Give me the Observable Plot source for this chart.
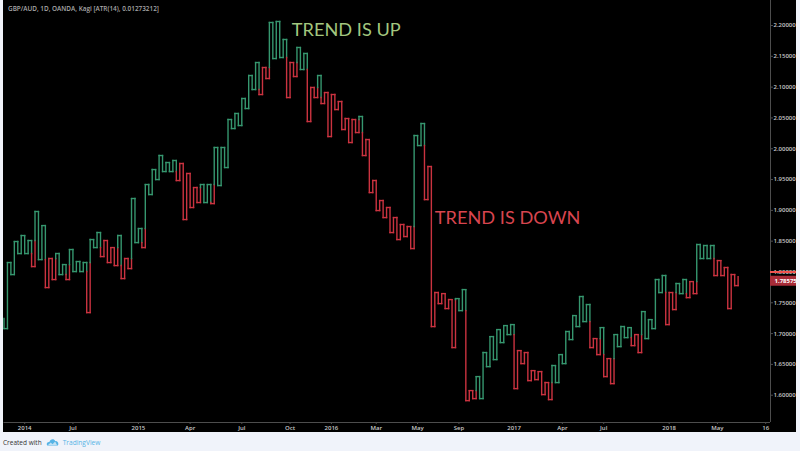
<!DOCTYPE html>
<html><head><meta charset="utf-8">
<script src="https://cdn.jsdelivr.net/npm/d3@7"></script>
<script src="https://cdn.jsdelivr.net/npm/@observablehq/plot@0.6"></script>
<style>
html,body{margin:0;padding:0;background:#f0f3fa;overflow:hidden;}
#chart{position:absolute;left:3px;top:0;width:793px;height:432px;}
#chart svg{display:block;}
#foot{position:absolute;left:3px;top:435px;height:14px;font:6.5px "Open Sans",sans-serif;color:#333;display:flex;align-items:center;gap:4px;}
#foot .tv{color:#56b4e6;font-size:6.6px;}
</style></head><body>
<div id="chart"></div>
<div id="foot"><span>Created with</span>
<svg width="13" height="8" viewBox="0 0 14 9"><path d="M1 8.5 C-0.5 5.5 2 4 3.5 4.5 C4 1 9 0 10 3.5 C13 3 14.5 6.5 13 8.5 Z" fill="#56b4e6"/><path d="M2 8 L5 5 L7 7 L10 4 L12 8Z" fill="#f0f3fa" opacity=".7"/></svg>
<span class="tv">TradingView</span></div>
<script>
const title = "GBP/AUD, 1D, OANDA, Kagi [ATR(14), 0.01273212]";
const kagiPrices = [
1.7244,1.7081,1.8153,1.7958,1.8494,1.8299,1.8591,1.8299,1.8510,1.8088,
1.8981,1.8201,1.8753,1.7747,1.8218,1.7877,1.8299,1.7958,1.8120,1.7877,
1.8364,1.8007,1.8169,1.8007,1.8153,1.7341,1.8526,1.8396,1.8640,1.8250,
1.8510,1.8153,1.8396,1.8104,1.8591,1.7893,1.8218,1.8055,1.9192,1.8477,
1.8705,1.8396,1.9419,1.9257,1.9662,1.9500,1.9890,1.9630,1.9776,1.9630,
1.9809,1.9484,1.9760,1.8851,1.9598,1.9046,1.9370,1.9127,1.9419,1.9127,
1.9419,1.9110,2.0020,1.9403,2.0020,1.9695,2.0474,2.0328,2.0572,2.0377,
2.0815,2.0653,2.1188,2.0961,2.1399,2.0880,2.1318,2.1140,2.2049,2.1464,
2.2065,2.1481,2.1773,2.0831,2.1399,2.1172,2.1643,2.1286,2.1546,2.0442,
2.0994,2.0831,2.1188,2.0734,2.0912,2.0198,2.0880,2.0636,2.0766,2.0312,
2.0490,2.0101,2.0474,2.0263,2.0523,1.9890,2.0149,1.9289,1.9484,1.8997,
1.9159,1.8883,1.9046,1.8640,1.8883,1.8526,1.8770,1.8575,1.8737,1.8380,
2.0214,2.0052,2.0409,1.9175,1.9711,1.7114,1.7666,1.7487,1.7649,1.7406,
1.7552,1.6773,1.7568,1.7373,1.7714,1.5912,1.6075,1.5945,1.6302,1.5945,
1.6692,1.6464,1.6951,1.6578,1.7065,1.6854,1.7130,1.6984,1.7146,1.6107,
1.6724,1.6513,1.6692,1.6237,1.6399,1.6253,1.6383,1.6010,1.6205,1.5929,
1.6481,1.6205,1.6659,1.6513,1.7033,1.6903,1.7292,1.7114,1.7601,1.7195,
1.7471,1.6773,1.6919,1.6659,1.7097,1.6302,1.6594,1.6188,1.6984,1.6789,
1.7114,1.6935,1.7097,1.6805,1.6984,1.6692,1.7357,1.6919,1.7227,1.7081,
1.7877,1.7666,1.7942,1.7146,1.7666,1.7390,1.7812,1.7649,1.7877,1.7584,
1.7844,1.7649,1.8445,1.8218,1.8429,1.8218,1.8429,1.7942,1.8185,1.7942,
1.8072,1.7406,1.7958,1.7779,1.7925
];
const yTicks = [1.6,1.65,1.7,1.75,1.8,1.85,1.9,1.95,2.0,2.05,2.1,2.15,2.2];
const xTickIdx = [6,20,39,54,69,83,95,108,120,132,148,162,174,193,207,221];
const xTickLabels = ["2014","Jul","2015","Apr","Jul","Oct","2016","Mar","May","Sep","2017","Apr","Jul","2018","May","16"];
const lastPrice = 1.78575;
const notes = [
  {i:83.5,p:2.192,t:"TREND IS UP",c:"#a3c77f"},
  {i:125,p:1.8866,t:"TREND IS DOWN",c:"#d8454f"}
];
const GREEN="#36976f", RED="#cb3340";
const xMax = 222.4, yMin = 1.5557, yMax = 2.2406;

// Kagi segments: colour flips where the price crosses the previous shoulder or waist
const segs = [];
let up = true;
function push(x1,y1,x2,y2,c){segs.push({x1,y1,x2,y2,c});}
for (let k=1;k<kagiPrices.length;k++){
  const a=kagiPrices[k-1], b=kagiPrices[k], x=k-1;
  const prev = k>=2 ? kagiPrices[k-2] : null;
  let flip = null;
  if (prev!==null){
    if (b>a && !up && b>prev) flip=prev;
    if (b<a && up && b<prev) flip=prev;
  }
  if (flip!==null){
    push(x,a,x,flip,up?GREEN:RED);
    up=!up;
    push(x,flip,x,b,up?GREEN:RED);
  } else {
    push(x,a,x,b,up?GREEN:RED);
  }
  if (k<kagiPrices.length-1) push(x,b,x+1,b,up?GREEN:RED);
}
const axisColor="#4d4d4d", labelColor="#c9c9c9";
const font='"Open Sans",sans-serif';
const chart = Plot.plot({
  width:793,height:432,
  marginLeft:0.5,marginRight:26,marginTop:0,marginBottom:10,
  style:{background:"#000",fontFamily:font},
  x:{type:"linear",domain:[0,xMax],axis:null},
  y:{type:"linear",domain:[yMin,yMax],axis:null},
  color:{type:"identity"},
  marks:[
    Plot.ruleX([xMax],{stroke:axisColor,strokeWidth:1}),
    Plot.ruleY([yMin],{stroke:axisColor,strokeWidth:1}),
    Plot.link(segs,{x1:"x1",y1:"y1",x2:"x2",y2:"y2",stroke:"c",strokeWidth:1.4,strokeLinecap:"square"}),
    Plot.axisY({anchor:"right",ticks:yTicks,tickFormat:d3.format(".5f"),tickSize:2,tickPadding:1,fontSize:6,fill:labelColor,stroke:axisColor,fontWeight:600,label:null}),
    Plot.ruleY([1.8],{x1:xMax,x2:xMax+7.6,stroke:"#ef5350",strokeWidth:2}),
    Plot.ruleY([lastPrice],{x1:xMax,x2:xMax+7.6,stroke:"#a82c38",strokeWidth:10}),
    Plot.text([lastPrice],{y:d=>d,x:xMax,dx:4,text:d=>d3.format(".5f")(d),textAnchor:"start",fill:"#fff",fontSize:6,fontWeight:700}),
    Plot.axisX({anchor:"bottom",ticks:xTickIdx,tickFormat:d=>xTickLabels[xTickIdx.indexOf(d)],tickSize:2,tickPadding:1,fontSize:6,fill:labelColor,stroke:axisColor,fontWeight:600,label:null}),
    Plot.text(notes,{x:"i",y:"p",text:"t",fill:"c",textAnchor:"start",fontSize:18.2,fontFamily:"Lato, sans-serif"}),
    Plot.text([title],{x:0,y:yMax,dx:4,dy:8,text:d=>d,textAnchor:"start",fill:"#a8a8a8",fontSize:6.4,fontWeight:600})
  ]
});
document.getElementById("chart").appendChild(chart);
</script>
</body></html>
